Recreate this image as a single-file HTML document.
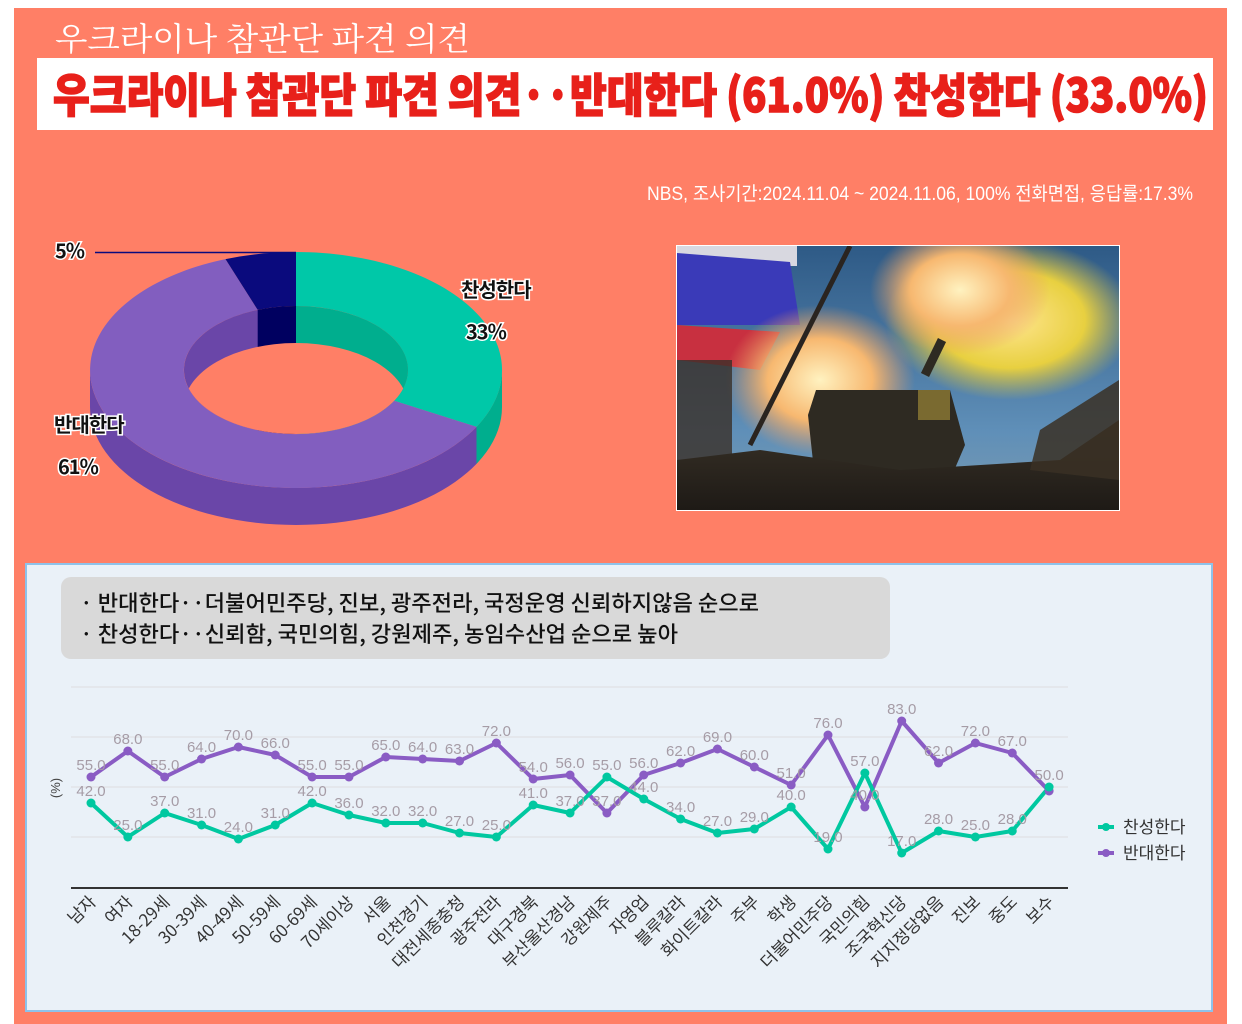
<!DOCTYPE html>
<html><head><meta charset="utf-8"><style>
html,body{margin:0;padding:0;background:#fff;}
svg{display:block;}
</style></head><body>
<svg width="1242" height="1024" viewBox="0 0 1242 1024" xmlns="http://www.w3.org/2000/svg" font-family="'Liberation Sans','Noto Sans CJK KR',sans-serif">
<defs>
<radialGradient id="sm1" cx="0.5" cy="0.5" r="0.5"><stop offset="0" stop-color="#fff2c0"/><stop offset="0.55" stop-color="#f7b870"/><stop offset="1" stop-color="#e89a60" stop-opacity="0"/></radialGradient>
<radialGradient id="sm2" cx="0.5" cy="0.5" r="0.5"><stop offset="0" stop-color="#ffe590"/><stop offset="0.6" stop-color="#e8d040"/><stop offset="1" stop-color="#d8c040" stop-opacity="0"/></radialGradient>
<linearGradient id="sky" x1="0" y1="0" x2="0" y2="1"><stop offset="0" stop-color="#2e5a86"/><stop offset="0.7" stop-color="#5f8fb8"/><stop offset="1" stop-color="#7a9ab0"/></linearGradient>
<linearGradient id="grd" x1="0" y1="0" x2="0" y2="1"><stop offset="0" stop-color="#3a3328"/><stop offset="1" stop-color="#1e1a16"/></linearGradient>
<clipPath id="ph"><rect x="677" y="246" width="442" height="264"/></clipPath>
<clipPath id="ctr"><rect x="476.5" y="0" width="100" height="600"/></clipPath>
<clipPath id="cle"><rect x="0" y="0" width="476.5" height="600"/></clipPath>
<clipPath id="inner"><ellipse cx="296" cy="370" rx="112" ry="64"/></clipPath>
</defs>
<rect x="14" y="8" width="1213" height="1016" fill="#FF7F66"/>
<text x="55" y="50" font-family="'Noto Serif CJK SC',serif" font-size="32" fill="#fff" textLength="415" lengthAdjust="spacingAndGlyphs">우크라이나 참관단 파견 의견</text>
<rect x="37" y="58" width="1176" height="72" fill="#fff"/>
<text x="53" y="112" font-family="'Noto Sans CJK KR',sans-serif" font-weight="900" font-size="46" fill="#E8201A" stroke="#E8201A" stroke-width="1.5" textLength="1155" lengthAdjust="spacingAndGlyphs">우크라이나 참관단 파견 의견··반대한다 (61.0%) 찬성한다 (33.0%)</text>
<text x="647" y="200" font-size="19" fill="#fff" textLength="546" lengthAdjust="spacingAndGlyphs" font-family="'Liberation Sans Narrow','Liberation Sans','Noto Sans CJK KR',sans-serif">NBS, 조사기간:2024.11.04 ~ 2024.11.06, 100% 전화면접, 응답률:17.3%</text>

<!-- donut -->
<path d="M90,370 A206,118 0 0 0 502,370 L502,407 A206,118 0 0 1 90,407 Z" fill="#6A46A8" clip-path="url(#cle)"/>
<path d="M90,370 A206,118 0 0 0 502,370 L502,407 A206,118 0 0 1 90,407 Z" fill="#00AE8E" clip-path="url(#ctr)"/>
<path d="M296,252 A206,118 0 0 1 476.5,426.9 L394.1,400.8 A112,64 0 0 0 296,306 Z" fill="#00C8A8"/>
<path d="M476.5,426.9 A206,118 0 1 1 225.5,259.1 L257.7,309.9 A112,64 0 1 0 394.1,400.8 Z" fill="#825EBF"/>
<path d="M225.5,259.1 A206,118 0 0 1 296,252 L296,306 A112,64 0 0 0 257.7,309.9 Z" fill="#0A0A7D"/>
<g clip-path="url(#inner)">
<rect x="150" y="290" width="108" height="200" fill="#6A46A8"/>
<rect x="257.7" y="290" width="38.3" height="200" fill="#000060"/>
<rect x="296" y="290" width="130" height="200" fill="#00AE8E"/>
<ellipse cx="296" cy="407" rx="112" ry="64" fill="#FF7F66"/>
</g>
<line x1="95" y1="252.5" x2="296" y2="252.5" stroke="#0A0A7D" stroke-width="1.5"/>
<g font-family="'Noto Sans CJK KR',sans-serif" font-weight="700" fill="#111" stroke="#fff" stroke-width="3" paint-order="stroke" font-size="20" letter-spacing="-1">
<text x="55" y="258">5%</text>
<text x="461" y="297">찬성한다</text>
<text x="466" y="339">33%</text>
<text x="54" y="432">반대한다</text>
<text x="58" y="474">61%</text>
</g>

<!-- photo -->
<rect x="676" y="245" width="444" height="266" fill="#fff"/>
<g clip-path="url(#ph)">
<rect x="677" y="246" width="442" height="264" fill="url(#sky)"/>
<rect x="677" y="246" width="120" height="20" fill="#d8d8e0"/>
<path d="M677,253 L790,262 L800,325 L677,325 Z" fill="#3a3ab8"/>
<path d="M677,325 L780,332 L760,370 L677,360 Z" fill="#c83040"/>
<ellipse cx="1010" cy="320" rx="125" ry="80" fill="url(#sm2)"/>
<ellipse cx="820" cy="380" rx="95" ry="75" fill="url(#sm1)"/>
<ellipse cx="960" cy="290" rx="90" ry="65" fill="url(#sm1)"/>
<rect x="677" y="360" width="55" height="150" fill="#3a3028" opacity="0.8"/>
<line x1="750" y1="445" x2="850" y2="246" stroke="#2a2420" stroke-width="5"/>
<path d="M816,390 L950,390 L965,445 L950,480 L815,480 L808,415 Z" fill="#2e2a22"/>
<rect x="918" y="390" width="32" height="30" fill="#7a6a30"/>
<line x1="925" y1="375" x2="942" y2="340" stroke="#2e2a22" stroke-width="9"/>
<path d="M677,460 L760,450 L900,470 L1060,460 L1119,420 L1119,510 L677,510 Z" fill="url(#grd)"/>
<path d="M1040,430 L1119,380 L1119,480 L1030,470 Z" fill="#3a3024" opacity="0.85"/>
</g>

<!-- bottom panel -->
<rect x="26" y="564" width="1186" height="447" fill="#EAF1F8" stroke="#8EC2EA" stroke-width="2"/>
<rect x="61" y="577" width="829" height="82" rx="10" fill="#D9D9D9"/>
<g font-family="'Noto Sans CJK KR',sans-serif" font-size="22" fill="#111" font-weight="500">
<text x="80" y="611" textLength="679" lengthAdjust="spacingAndGlyphs">· 반대한다··더불어민주당, 진보, 광주전라, 국정운영 신뢰하지않음 순으로</text>
<text x="80" y="642" textLength="598" lengthAdjust="spacingAndGlyphs">· 찬성한다··신뢰함, 국민의힘, 강원제주, 농임수산업 순으로 높아</text>
</g>
<g stroke="#E2E4E8" stroke-width="1.5">
<line x1="71" y1="687" x2="1068" y2="687"/>
<line x1="71" y1="737" x2="1068" y2="737"/>
<line x1="71" y1="787" x2="1068" y2="787"/>
<line x1="71" y1="837" x2="1068" y2="837"/>
</g>
<line x1="71" y1="888" x2="1068" y2="888" stroke="#333" stroke-width="2"/>
<text transform="translate(60,788) rotate(-90)" text-anchor="middle" font-size="13" fill="#444">(%)</text>

<polyline fill="none" stroke="#8A5CC4" stroke-width="4" stroke-linejoin="round" points="91,777 127.85,751 164.7,777 201.55,759 238.4,747 275.25,755 312.1,777 348.95,777 385.8,757 422.65,759 459.5,761 496.35,743 533.2,779 570.05,775 606.9,813 643.75,775 680.6,763 717.45,749 754.3,767 791.15,785 828,735 864.85,807 901.7,721 938.55,763 975.4,743 1012.25,753 1049.1,791"/>
<polyline fill="none" stroke="#00C8A0" stroke-width="4" stroke-linejoin="round" points="91,803 127.85,837 164.7,813 201.55,825 238.4,839 275.25,825 312.1,803 348.95,815 385.8,823 422.65,823 459.5,833 496.35,837 533.2,805 570.05,813 606.9,777 643.75,799 680.6,819 717.45,833 754.3,829 791.15,807 828,849 864.85,773 901.7,853 938.55,831 975.4,837 1012.25,831 1049.1,787"/>
<g fill="#8A5CC4">
<circle cx="91" cy="777" r="4.5"/><circle cx="127.85" cy="751" r="4.5"/><circle cx="164.7" cy="777" r="4.5"/><circle cx="201.55" cy="759" r="4.5"/><circle cx="238.4" cy="747" r="4.5"/><circle cx="275.25" cy="755" r="4.5"/><circle cx="312.1" cy="777" r="4.5"/><circle cx="348.95" cy="777" r="4.5"/><circle cx="385.8" cy="757" r="4.5"/><circle cx="422.65" cy="759" r="4.5"/><circle cx="459.5" cy="761" r="4.5"/><circle cx="496.35" cy="743" r="4.5"/><circle cx="533.2" cy="779" r="4.5"/><circle cx="570.05" cy="775" r="4.5"/><circle cx="606.9" cy="813" r="4.5"/><circle cx="643.75" cy="775" r="4.5"/><circle cx="680.6" cy="763" r="4.5"/><circle cx="717.45" cy="749" r="4.5"/><circle cx="754.3" cy="767" r="4.5"/><circle cx="791.15" cy="785" r="4.5"/><circle cx="828" cy="735" r="4.5"/><circle cx="864.85" cy="807" r="4.5"/><circle cx="901.7" cy="721" r="4.5"/><circle cx="938.55" cy="763" r="4.5"/><circle cx="975.4" cy="743" r="4.5"/><circle cx="1012.25" cy="753" r="4.5"/><circle cx="1049.1" cy="791" r="4.5"/>
</g>
<g fill="#00C8A0">
<circle cx="91" cy="803" r="4.5"/><circle cx="127.85" cy="837" r="4.5"/><circle cx="164.7" cy="813" r="4.5"/><circle cx="201.55" cy="825" r="4.5"/><circle cx="238.4" cy="839" r="4.5"/><circle cx="275.25" cy="825" r="4.5"/><circle cx="312.1" cy="803" r="4.5"/><circle cx="348.95" cy="815" r="4.5"/><circle cx="385.8" cy="823" r="4.5"/><circle cx="422.65" cy="823" r="4.5"/><circle cx="459.5" cy="833" r="4.5"/><circle cx="496.35" cy="837" r="4.5"/><circle cx="533.2" cy="805" r="4.5"/><circle cx="570.05" cy="813" r="4.5"/><circle cx="606.9" cy="777" r="4.5"/><circle cx="643.75" cy="799" r="4.5"/><circle cx="680.6" cy="819" r="4.5"/><circle cx="717.45" cy="833" r="4.5"/><circle cx="754.3" cy="829" r="4.5"/><circle cx="791.15" cy="807" r="4.5"/><circle cx="828" cy="849" r="4.5"/><circle cx="864.85" cy="773" r="4.5"/><circle cx="901.7" cy="853" r="4.5"/><circle cx="938.55" cy="831" r="4.5"/><circle cx="975.4" cy="837" r="4.5"/><circle cx="1012.25" cy="831" r="4.5"/><circle cx="1049.1" cy="787" r="4.5"/>
</g>
<g font-size="15" fill="#A69CA6" text-anchor="middle">
<text x="91" y="770">55.0</text><text x="127.85" y="744">68.0</text><text x="164.7" y="770">55.0</text><text x="201.55" y="752">64.0</text><text x="238.4" y="740">70.0</text><text x="275.25" y="748">66.0</text><text x="312.1" y="770">55.0</text><text x="348.95" y="770">55.0</text><text x="385.8" y="750">65.0</text><text x="422.65" y="752">64.0</text><text x="459.5" y="754">63.0</text><text x="496.35" y="736">72.0</text><text x="533.2" y="772">54.0</text><text x="570.05" y="768">56.0</text><text x="606.9" y="806">37.0</text><text x="643.75" y="768">56.0</text><text x="680.6" y="756">62.0</text><text x="717.45" y="742">69.0</text><text x="754.3" y="760">60.0</text><text x="791.15" y="778">51.0</text><text x="828" y="728">76.0</text><text x="864.85" y="800">40.0</text><text x="901.7" y="714">83.0</text><text x="938.55" y="756">62.0</text><text x="975.4" y="736">72.0</text><text x="1012.25" y="746">67.0</text><text x="1049.1" y="780">50.0</text>
<text x="91" y="796">42.0</text><text x="127.85" y="830">25.0</text><text x="164.7" y="806">37.0</text><text x="201.55" y="818">31.0</text><text x="238.4" y="832">24.0</text><text x="275.25" y="818">31.0</text><text x="312.1" y="796">42.0</text><text x="348.95" y="808">36.0</text><text x="385.8" y="816">32.0</text><text x="422.65" y="816">32.0</text><text x="459.5" y="826">27.0</text><text x="496.35" y="830">25.0</text><text x="533.2" y="798">41.0</text><text x="570.05" y="806">37.0</text><text x="606.9" y="770">55.0</text><text x="643.75" y="792">44.0</text><text x="680.6" y="812">34.0</text><text x="717.45" y="826">27.0</text><text x="754.3" y="822">29.0</text><text x="791.15" y="800">40.0</text><text x="828" y="842">19.0</text><text x="864.85" y="766">57.0</text><text x="901.7" y="846">17.0</text><text x="938.55" y="824">28.0</text><text x="975.4" y="830">25.0</text><text x="1012.25" y="824">28.0</text>
</g>
<g font-family="'Noto Sans CJK KR',sans-serif" font-size="17" fill="#333" text-anchor="end">
<text transform="translate(97,903) rotate(-45)">남자</text>
<text transform="translate(133.85,903) rotate(-45)">여자</text>
<text transform="translate(170.7,903) rotate(-45)">18-29세</text>
<text transform="translate(207.55,903) rotate(-45)">30-39세</text>
<text transform="translate(244.4,903) rotate(-45)">40-49세</text>
<text transform="translate(281.25,903) rotate(-45)">50-59세</text>
<text transform="translate(318.1,903) rotate(-45)">60-69세</text>
<text transform="translate(354.95,903) rotate(-45)">70세이상</text>
<text transform="translate(391.8,903) rotate(-45)">서울</text>
<text transform="translate(428.65,903) rotate(-45)">인천경기</text>
<text transform="translate(465.5,903) rotate(-45)">대전세종충청</text>
<text transform="translate(502.35,903) rotate(-45)">광주전라</text>
<text transform="translate(539.2,903) rotate(-45)">대구경북</text>
<text transform="translate(576.05,903) rotate(-45)">부산울산경남</text>
<text transform="translate(612.9,903) rotate(-45)">강원제주</text>
<text transform="translate(649.75,903) rotate(-45)">자영업</text>
<text transform="translate(686.6,903) rotate(-45)">블루칼라</text>
<text transform="translate(723.45,903) rotate(-45)">화이트칼라</text>
<text transform="translate(760.3,903) rotate(-45)">주부</text>
<text transform="translate(797.15,903) rotate(-45)">학생</text>
<text transform="translate(834,903) rotate(-45)">더불어민주당</text>
<text transform="translate(870.85,903) rotate(-45)">국민의힘</text>
<text transform="translate(907.7,903) rotate(-45)">조국혁신당</text>
<text transform="translate(944.55,903) rotate(-45)">지지정당없음</text>
<text transform="translate(981.4,903) rotate(-45)">진보</text>
<text transform="translate(1018.25,903) rotate(-45)">중도</text>
<text transform="translate(1055.1,903) rotate(-45)">보수</text>
</g>
<line x1="1098" y1="827" x2="1114" y2="827" stroke="#00C8A0" stroke-width="4"/>
<circle cx="1106" cy="827" r="4" fill="#00C8A0"/>
<line x1="1098" y1="853" x2="1114" y2="853" stroke="#8A5CC4" stroke-width="4"/>
<circle cx="1106" cy="853" r="4" fill="#8A5CC4"/>
<g font-family="'Noto Sans CJK KR',sans-serif" font-size="17" fill="#333">
<text x="1123" y="833">찬성한다</text>
<text x="1123" y="859">반대한다</text>
</g>
</svg>
</body></html>
